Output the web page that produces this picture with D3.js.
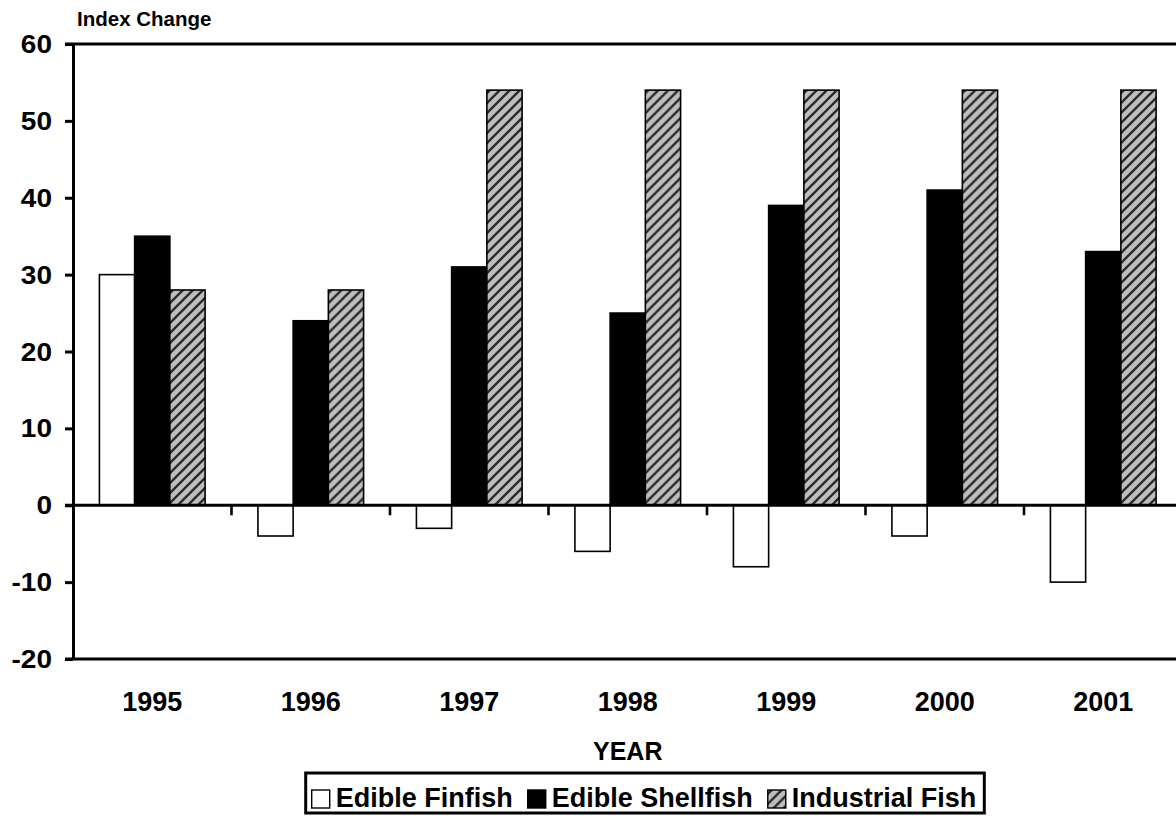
<!DOCTYPE html>
<html>
<head>
<meta charset="utf-8">
<script src="https://cdn.jsdelivr.net/npm/d3@7"></script>
<style>
  html, body { margin: 0; padding: 0; background: #fff; }
  svg { display: block; }
  text { font-family: "Liberation Sans", Arial, sans-serif; font-weight: bold; fill: #000; }
</style>
</head>
<body>
<svg id="chart" width="1176" height="816"></svg>
<script>
const years = ["1995", "1996", "1997", "1998", "1999", "2000", "2001"];
const seriesNames = ["Edible Finfish", "Edible Shellfish", "Industrial Fish"];
const finfish = [30, -4, -3, -6, -8, -4, -10];
const shellfish = [35, 24, 31, 25, 39, 41, 33];
const industrial = [28, 28, 54, 54, 54, 54, 54];
const yTicks = [-20, -10, 0, 10, 20, 30, 40, 50, 60];
const yTitle = "Index Change";
const xTitle = "YEAR";

const seriesValues = [finfish, shellfish, industrial];

const svg = d3.select("#chart");

const defs = svg.append("defs");
const pat = defs.append("pattern")
  .attr("id", "hatch")
  .attr("patternUnits", "userSpaceOnUse")
  .attr("width", 10).attr("height", 10);
pat.append("rect").attr("width", 10).attr("height", 10).attr("fill", "#bebebe");
pat.append("path")
  .attr("d", "M-1,1 l2,-2 M0,10 l10,-10 M9,11 l2,-2")
  .attr("stroke", "#2b2b2b").attr("stroke-width", 2.4);

const fills = ["#ffffff", "#000000", "url(#hatch)"];

const plotLeft = 73, plotTop = 44, plotBottom = 659;
const step = 158.5;
const plotRight = plotLeft + step * years.length;

const x = d3.scaleBand().domain(years).range([plotLeft, plotRight]).paddingInner(0).paddingOuter(0);
const xs = d3.scaleBand().domain(seriesNames).range([0, x.bandwidth()]).paddingInner(0).paddingOuter(0.75);
const y = d3.scaleLinear().domain([-20, 60]).range([plotBottom, plotTop]);

// bars
const groups = svg.append("g").selectAll("g")
  .data(years)
  .join("g")
  .attr("transform", d => `translate(${x(d)},0)`);

groups.selectAll("rect")
  .data((d, i) => seriesNames.map((s, k) => ({ s, k, v: seriesValues[k][i] })))
  .join("rect")
  .attr("x", d => xs(d.s))
  .attr("width", xs.bandwidth())
  .attr("y", d => y(Math.max(0, d.v)))
  .attr("height", d => Math.abs(y(d.v) - y(0)))
  .attr("fill", d => fills[d.k])
  .attr("stroke", "#000")
  .attr("stroke-width", 1.6);

// frame lines: top and bottom
svg.append("line").attr("x1", plotLeft - 8).attr("x2", 1200)
  .attr("y1", y(60)).attr("y2", y(60)).attr("stroke", "#000").attr("stroke-width", 3);
svg.append("line").attr("x1", plotLeft - 8).attr("x2", 1200)
  .attr("y1", y(-20)).attr("y2", y(-20)).attr("stroke", "#000").attr("stroke-width", 3);

// zero axis
svg.append("line").attr("x1", plotLeft - 8).attr("x2", 1200)
  .attr("y1", y(0)).attr("y2", y(0)).attr("stroke", "#000").attr("stroke-width", 3);

// category boundary ticks below the zero line
svg.append("g").selectAll("line")
  .data(years.slice(1))
  .join("line")
  .attr("x1", d => x(d)).attr("x2", d => x(d))
  .attr("y1", y(0)).attr("y2", y(0) + 10)
  .attr("stroke", "#000").attr("stroke-width", 2.6);

// y axis
const yAxis = svg.append("g")
  .attr("transform", `translate(${plotLeft},0)`)
  .call(d3.axisLeft(y).tickValues(yTicks).tickSize(8).tickSizeOuter(0).tickPadding(13).tickFormat(d => String(d)));
yAxis.select(".domain").attr("stroke", "#000").attr("stroke-width", 3);
yAxis.selectAll(".tick line").attr("stroke", "#000").attr("stroke-width", 3);
yAxis.selectAll(".tick text")
  .attr("font-size", 25)
  .attr("font-family", "Liberation Sans, Arial, sans-serif")
  .attr("font-weight", "bold")
  .attr("fill", "#000")
  .attr("dy", "0.34em")
  .attr("x", -21 / 1.12)
  .attr("transform", "scale(1.12,1)");

// x axis labels
const xAxis = svg.append("g")
  .attr("transform", `translate(0,${plotBottom})`)
  .call(d3.axisBottom(x).tickSize(0).tickPadding(0));
xAxis.select(".domain").remove();
xAxis.selectAll(".tick text")
  .attr("font-size", 27)
  .attr("font-family", "Liberation Sans, Arial, sans-serif")
  .attr("font-weight", "bold")
  .attr("fill", "#000")
  .attr("y", 52)
  .attr("dy", 0);

// titles
svg.append("text").attr("x", 77).attr("y", 26).attr("font-size", 20.5).text(yTitle);
svg.append("text").attr("x", (plotLeft + plotRight) / 2).attr("y", 760)
  .attr("text-anchor", "middle").attr("font-size", 25).text(xTitle);

// legend
const legend = svg.append("g");
const lgFont = 27, sq = 18, gapSqText = 6, gapItem = 15, padL = 6, padR = 8;
let cx = 0;
seriesNames.forEach((s, k) => {
  const g = legend.append("g");
  g.append("rect").attr("x", cx).attr("y", 790).attr("width", sq).attr("height", sq)
    .attr("fill", fills[k]).attr("stroke", "#000").attr("stroke-width", 1.4);
  const t = g.append("text").attr("x", cx + sq + gapSqText).attr("y", 807)
    .attr("font-size", lgFont).text(s);
  const w = t.node().getComputedTextLength();
  cx += sq + gapSqText + w + (k < seriesNames.length - 1 ? gapItem : 0);
});
const totalW = padL + cx + padR;
const legendCenter = 645;
const lx = legendCenter - totalW / 2;
legend.attr("transform", `translate(${lx + padL},0)`);
svg.insert("rect", "g")
  .attr("x", lx).attr("y", 773).attr("width", totalW).attr("height", 40)
  .attr("fill", "#fff").attr("stroke", "#000").attr("stroke-width", 3);
</script>
</body>
</html>
